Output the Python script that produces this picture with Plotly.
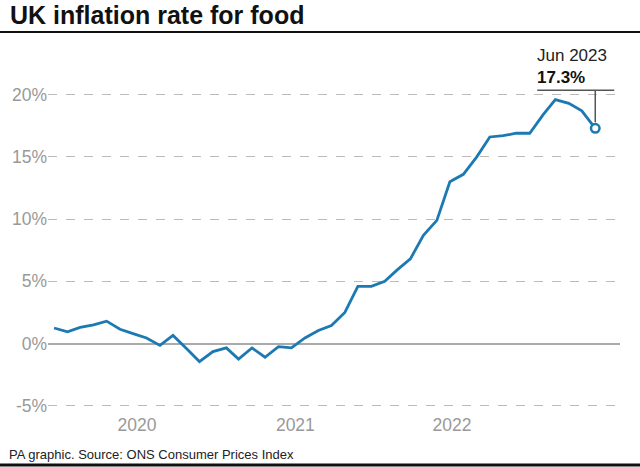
import plotly.graph_objects as go
import pandas as pd

# Monthly UK food inflation (%), Jan 2020 - Jun 2023
months = pd.date_range("2020-01-01", "2023-06-01", freq="MS")
rate_2020 = [1.25, 0.95, 1.3, 1.5, 1.8, 1.15, 0.8, 0.45, -0.15, 0.65, -0.4, -1.45]
rate_2021 = [-0.65, -0.35, -1.25, -0.35, -1.1, -0.25, -0.35, 0.45, 1.05, 1.45, 2.5, 4.6]
rate_2022 = [4.6, 5.0, 5.9, 6.8, 8.7, 9.9, 13.0, 13.6, 15.0, 16.6, 16.7, 16.9]
rate_2023 = [16.9, 18.4, 19.6, 19.3, 18.7, 17.3]
rates = rate_2020 + rate_2021 + rate_2022 + rate_2023

y_ticks = [-5, 0, 5, 10, 15, 20]
y_tick_labels = ["-5%", "0%", "5%", "10%", "15%", "20%"]
year_labels = ["2020", "2021", "2022"]
year_label_pos = ["2020-07-10", "2021-07-10", "2022-07-06"]

last_label = "Jun 2023"
last_value_label = "17.3%"

BLUE = "#1c79b2"
GREY = "#999999"
FONT = "Liberation Sans"
W, H = 640, 467
L, R, T, B = 48, 20, 76, 55
PW = W - L - R

fig = go.Figure()
fig.add_trace(go.Scatter(
    x=months, y=rates, mode="lines",
    line=dict(color=BLUE, width=2.8), hoverinfo="skip", showlegend=False,
))
fig.add_trace(go.Scatter(
    x=[months[-1]], y=[rates[-1]], mode="markers",
    marker=dict(size=8.5, color="white", line=dict(color=BLUE, width=2.5)),
    hoverinfo="skip", showlegend=False,
))

# annotation lines anchored to last point
fig.add_shape(type="line", xref="x", yref="y", xsizemode="pixel", ysizemode="pixel",
              xanchor=months[-1], yanchor=rates[-1],
              x0=-58, x1=19, y0=38, y1=38, line=dict(color="#555555", width=1.5))
fig.add_shape(type="line", xref="x", yref="y", xsizemode="pixel", ysizemode="pixel",
              xanchor=months[-1], yanchor=rates[-1],
              x0=0, x1=0, y0=6, y1=38, line=dict(color="#555555", width=1.5))
fig.add_annotation(x=months[-1], y=rates[-1], xref="x", yref="y", text=last_label,
                   showarrow=False, xanchor="left", yanchor="middle", xshift=-60, yshift=73,
                   font=dict(family=FONT, size=17, color="#222222"))
fig.add_annotation(x=months[-1], y=rates[-1], xref="x", yref="y", text="<b>" + last_value_label + "</b>",
                   showarrow=False, xanchor="left", yanchor="middle", xshift=-60, yshift=51,
                   font=dict(family=FONT, size=17, color="#111111"))

# title, header rule, footer and bottom rule
fig.add_annotation(text="<b>UK inflation rate for food</b>", xref="paper", yref="paper",
                   x=-40 / PW, y=1, xanchor="left", yanchor="middle", showarrow=False, yshift=T - 15,
                   font=dict(family=FONT, size=25, color="#111111"))
fig.add_annotation(text="PA graphic. Source: ONS Consumer Prices Index", xref="paper", yref="paper",
                   x=-41 / PW, y=0, xanchor="left", yanchor="middle", showarrow=False,
                   yshift=-(454 - (H - B)),
                   font=dict(family=FONT, size=13, color="#222222"))
fig.add_shape(type="line", xref="paper", yref="paper", x0=-L / PW, x1=1 + R / PW,
              ysizemode="pixel", yanchor=1, y0=T - 32, y1=T - 32,
              line=dict(color="#111111", width=2))
fig.add_shape(type="line", xref="paper", yref="paper", x0=-L / PW, x1=1 + R / PW,
              ysizemode="pixel", yanchor=0, y0=-(465 - (H - B)), y1=-(465 - (H - B)),
              line=dict(color="#111111", width=3))

fig.update_layout(
    width=W, height=H,
    margin=dict(l=L, r=R, t=T, b=B),
    paper_bgcolor="white", plot_bgcolor="white",
    font=dict(family=FONT),
    xaxis=dict(
        range=["2019-12-18", "2023-07-28"],
        tickmode="array", tickvals=year_label_pos, ticktext=year_labels,
        showgrid=False, zeroline=False, showline=False, ticks="",
        tickfont=dict(family=FONT, size=17.5, color=GREY),
    ),
    yaxis=dict(
        range=[-5.5, 21.5],
        tickmode="array", tickvals=y_ticks, ticktext=y_tick_labels,
        showgrid=True, gridcolor="#bbbbbb", griddash="dash", gridwidth=1,
        zeroline=True, zerolinecolor="#aaaaaa", zerolinewidth=1.5,
        showline=False, ticks="",
        tickfont=dict(family=FONT, size=17.5, color=GREY),
    ),
)

fig.write_html("out.html", config={"displayModeBar": False},
               post_script="document.body.style.margin='0px';")
